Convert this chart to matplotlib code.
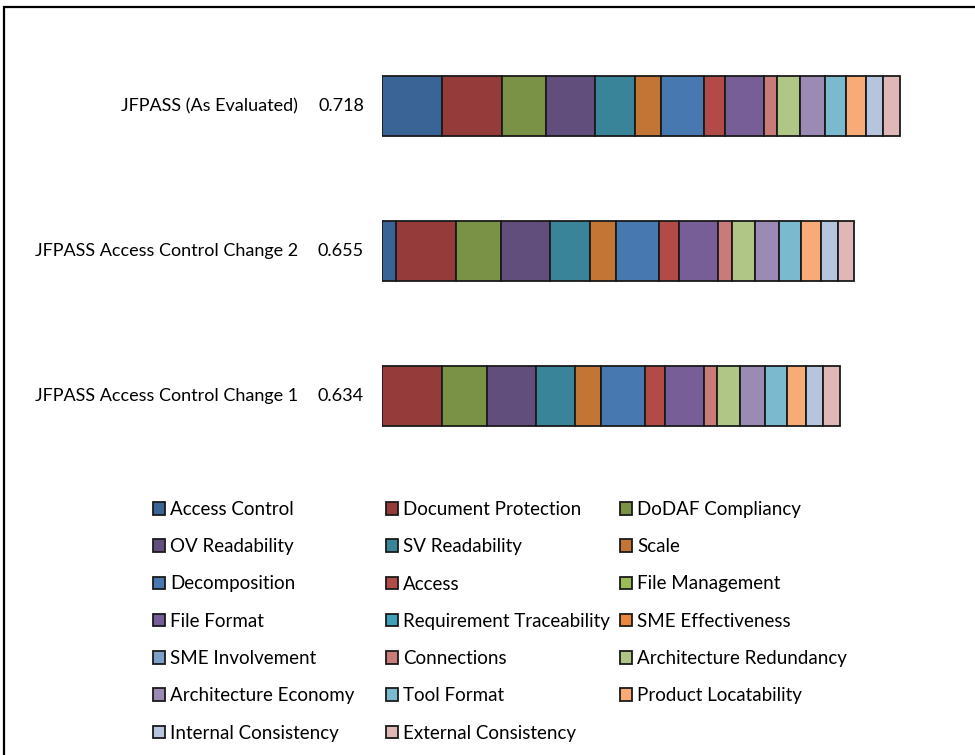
import matplotlib.pyplot as plt
from matplotlib.patches import Rectangle

plt.rcParams['font.family'] = ['Lato', 'DejaVu Sans']

# scenarios, top to bottom
scenarios = ["JFPASS (As Evaluated)", "JFPASS Access Control Change 2", "JFPASS Access Control Change 1"]
totals = ["0.718", "0.655", "0.634"]

criteria = ["Access Control", "Document Protection", "DoDAF Compliancy",
            "OV Readability", "SV Readability", "Scale",
            "Decomposition", "Access", "File Management",
            "File Format", "Requirement Traceability", "SME Effectiveness",
            "SME Involvement", "Connections", "Architecture Redundancy",
            "Architecture Economy", "Tool Format", "Product Locatability",
            "Internal Consistency", "External Consistency"]

# weighted score contribution of each criterion, one list per scenario
as_evaluated = [0.083, 0.083, 0.062, 0.068, 0.055, 0.036, 0.060, 0.028, 0.0,
                0.054, 0.0, 0.0, 0.0, 0.019, 0.032, 0.034, 0.030, 0.027, 0.024, 0.023]
change_2 = [0.020, 0.083, 0.062, 0.068, 0.055, 0.036, 0.060, 0.028, 0.0,
            0.054, 0.0, 0.0, 0.0, 0.019, 0.032, 0.034, 0.030, 0.027, 0.024, 0.023]
change_1 = [0.0, 0.083, 0.062, 0.068, 0.055, 0.036, 0.060, 0.028, 0.0,
            0.054, 0.0, 0.0, 0.0, 0.019, 0.032, 0.034, 0.030, 0.027, 0.024, 0.023]

colors = ["#3A6495", "#953B3A", "#7A9245", "#624E7C", "#3A8499", "#C27535",
          "#4878B0", "#B24B48", "#9BBB59", "#775E96", "#3FA0B8", "#E8873D",
          "#7F9FCB", "#C97B7A", "#AFC686", "#9B8AB3", "#7BB9CF", "#F8AA77",
          "#B6C4DE", "#DFB7B6"]

fig = plt.figure(figsize=(9.75, 7.55), dpi=100)
W, H = 975, 755

# chart frame (runs off the right and bottom edges like the original)
fig.patches.append(Rectangle((4 / W, -0.1), 1.2, 748 / H + 0.1, transform=fig.transFigure,
                             fill=False, edgecolor="black", linewidth=1.6, zorder=0))

ax = fig.add_axes([382 / W, (755 - 468.5) / H, 577 / W, 435 / H])

rows = [as_evaluated, change_2, change_1]
handles = []
for j, name in enumerate(criteria):
    vals = [r[j] for r in rows]
    lefts = [sum(r[:j]) for r in rows]
    b = ax.barh(range(len(scenarios)), vals, left=lefts, height=0.41,
                color=colors[j], edgecolor="#1a1a1a", linewidth=1.3, label=name)
    handles.append(b)

ax.set_xlim(0, 0.8)
ax.set_ylim(2.5, -0.5)
ax.axis("off")

for i, (s, t) in enumerate(zip(scenarios, totals)):
    ax.annotate(s, xy=(0, i), xycoords=("axes fraction", "data"), xytext=(-84, 0),
                textcoords="offset pixels", ha="right", va="center", fontsize=13)
    ax.annotate(t, xy=(0, i), xycoords=("axes fraction", "data"), xytext=(-18, 0),
                textcoords="offset pixels", ha="right", va="center", fontsize=13)

# legend laid out row-wise in 3 fixed-width columns
col_x = [153, 386, 620]
for c in range(3):
    idx = list(range(c, len(criteria), 3))
    fig.legend([handles[k] for k in idx], [criteria[k] for k in idx],
               loc="upper left", bbox_to_anchor=(col_x[c] / W, (755 - 501) / H),
               frameon=False, fontsize=13.5, handlelength=0.65, handleheight=0.65,
               handletextpad=0.25, labelspacing=1.08, borderaxespad=0, borderpad=0)

fig.savefig("out.png", dpi=100)
